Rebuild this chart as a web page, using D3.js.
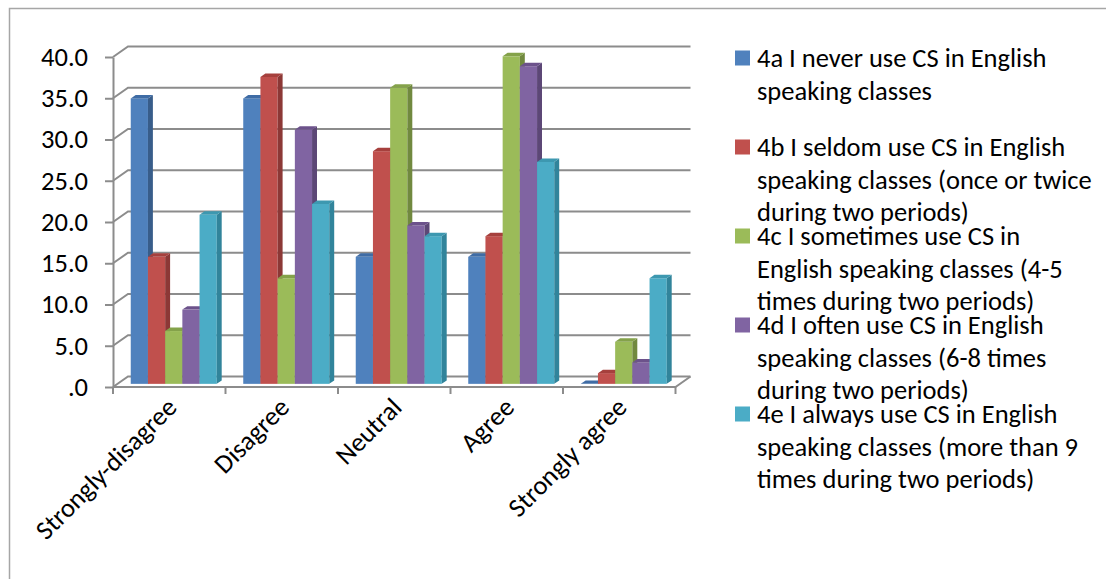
<!DOCTYPE html>
<html>
<head>
<meta charset="utf-8">
<script src="https://cdn.jsdelivr.net/npm/d3@7"></script>
<style>
  body { margin: 0; background: #fff; }
  text { font-family: Carlito, Calibri, Lato, sans-serif; fill: #000; }
</style>
</head>
<body>
<div id="chart"></div>
<script>
// data (percent)
const categories = ["Strongly-disagree", "Disagree", "Neutral", "Agree", "Strongly agree"];
const seriesKeys = ["4a", "4b", "4c", "4d", "4e"];
const seriesLabels = [
  "4a I never use CS in English\nspeaking classes",
  "4b I seldom use CS in English\nspeaking classes (once or twice\nduring two periods)",
  "4c I sometimes use CS in\nEnglish speaking classes (4-5\ntimes during two periods)",
  "4d I often use CS in English\nspeaking classes (6-8 times\nduring two periods)",
  "4e I always use CS in English\nspeaking classes (more than 9\ntimes during two periods)"
];
const values4a = [34.6, 34.6, 15.4, 15.4, 0.0];
const values4b = [15.4, 37.2, 28.2, 17.9, 1.3];
const values4c = [6.4, 12.8, 35.9, 39.7, 5.1];
const values4d = [9.0, 30.8, 19.2, 38.5, 2.6];
const values4e = [20.5, 21.8, 17.9, 26.9, 12.8];
const yTicks = [0, 5, 10, 15, 20, 25, 30, 35, 40];
const yTickLabels = [".0", "5.0", "10.0", "15.0", "20.0", "25.0", "30.0", "35.0", "40.0"];

const allValues = [values4a, values4b, values4c, values4d, values4e];

// colours: front, side, top
const frontColors = ["#4F81BD", "#C0504D", "#9BBB59", "#8064A2", "#4BACC6"];
const sideColors  = ["#385D8A", "#8C3836", "#71893F", "#5C4776", "#31849B"];
const topColors   = ["#3F6CA5", "#A6403D", "#84A24A", "#6C528B", "#3D98B0"];

const svgWidth = 1106;
const svgHeight = 579;
const depthX = 15, depthY = -10.5;   // floor depth offset
const t0 = 0.3, t1 = 0.63;           // bar front / back plane
const fontSize = 26.5;

const svg = d3.select("#chart")
  .append("svg")
  .attr("width", svgWidth)
  .attr("height", svgHeight);

// outer border
svg.append("rect")
  .attr("x", 9.5).attr("y", 8.5)
  .attr("width", 1300).attr("height", 800)
  .attr("fill", "none")
  .attr("stroke", "#a6a6a6")
  .attr("stroke-width", 1.5);

const x0 = d3.scaleBand()
  .domain(categories)
  .range([113, 675.5]);

const x1 = d3.scaleBand()
  .domain(seriesKeys)
  .range([0, x0.bandwidth()])
  .paddingInner(0)
  .paddingOuter(0.77);

const y = d3.scaleLinear()
  .domain([0, 40])
  .range([387, 57]);

const gridColor = "#8c8c8c";
const grid = svg.append("g")
  .attr("stroke", gridColor)
  .attr("stroke-width", 2)
  .attr("fill", "none");

// back wall gridlines + side wall diagonals
grid.selectAll(".backGrid")
  .data(yTicks)
  .join("path")
  .attr("d", d => `M${x0.range()[0]},${y(d)}L${x0.range()[0] + depthX},${y(d) + depthY}H${x0.range()[1] + depthX}`);

// floor
grid.append("path")
  .attr("d", `M${x0.range()[0]},${y(0)}H${x0.range()[1]}L${x0.range()[1] + depthX},${y(0) + depthY}`);

// category tick marks
grid.selectAll(".xTick")
  .data(categories.map(c => x0(c)).concat([x0.range()[1]]))
  .join("line")
  .attr("x1", d => d).attr("x2", d => d)
  .attr("y1", y(0)).attr("y2", y(0) + 7);

// front y axis
const yAxis = svg.append("g")
  .attr("transform", `translate(${x0.range()[0]},0)`)
  .call(d3.axisLeft(y)
    .tickValues(yTicks)
    .tickFormat((d, i) => yTickLabels[i])
    .tickSize(8)
    .tickSizeOuter(0)
    .tickPadding(17));

yAxis.select(".domain").attr("stroke", gridColor).attr("stroke-width", 2);
yAxis.selectAll(".tick line").attr("stroke", gridColor).attr("stroke-width", 2);
yAxis.selectAll(".tick text")
  .attr("font-family", "Carlito, Calibri, Lato, sans-serif")
  .attr("font-size", fontSize)
  .attr("fill", "#000");

// bars
const bars = [];
categories.forEach((c, ci) => {
  seriesKeys.forEach((k, si) => {
    bars.push({ cat: c, key: k, si: si, value: allValues[si][ci] });
  });
});

const dx = (t1 - t0) * depthX;
const dy = (t1 - t0) * depthY;

const barG = svg.append("g")
  .selectAll("g")
  .data(bars)
  .join("g");

function geom(d) {
  const xl = x0(d.cat) + x1(d.key) + t0 * depthX;
  const xr = xl + x1.bandwidth();
  const yt = y(d.value) + t0 * depthY;
  const yb = y(0) + t0 * depthY;
  return { xl, xr, yt, yb };
}

barG.append("rect")
  .attr("x", d => geom(d).xl)
  .attr("y", d => geom(d).yt)
  .attr("width", x1.bandwidth())
  .attr("height", d => geom(d).yb - geom(d).yt)
  .attr("fill", d => frontColors[d.si]);

barG.append("path")
  .attr("d", d => {
    const g = geom(d);
    return `M${g.xr},${g.yt}L${g.xr + dx},${g.yt + dy}L${g.xr + dx},${g.yb + dy}L${g.xr},${g.yb}Z`;
  })
  .attr("fill", d => sideColors[d.si]);

barG.append("path")
  .attr("d", d => {
    const g = geom(d);
    return `M${g.xl},${g.yt}L${g.xr},${g.yt}L${g.xr + dx},${g.yt + dy}L${g.xl + dx},${g.yt + dy}Z`;
  })
  .attr("fill", d => topColors[d.si]);

// category labels
svg.append("g")
  .selectAll("text")
  .data(categories)
  .join("text")
  .attr("transform", d => `translate(${x0(d) + x0.bandwidth() / 2 + 9},${y(0) + 22}) rotate(-45)`)
  .attr("text-anchor", "end")
  .attr("font-size", fontSize)
  .text(d => d);

// legend
const legend = svg.append("g")
  .selectAll("g")
  .data(seriesLabels)
  .join("g")
  .attr("transform", (d, i) => `translate(735,${58 + i * 89})`);

legend.append("rect")
  .attr("x", 0).attr("y", -7.5)
  .attr("width", 15).attr("height", 15)
  .attr("fill", (d, i) => frontColors[i]);

legend.append("text")
  .attr("font-size", fontSize)
  .selectAll("tspan")
  .data(d => d.split("\n"))
  .join("tspan")
  .attr("x", 22)
  .attr("y", (d, i) => i * 32.5)
  .attr("dy", "0.35em")
  .text(d => d);
</script>
</body>
</html>
